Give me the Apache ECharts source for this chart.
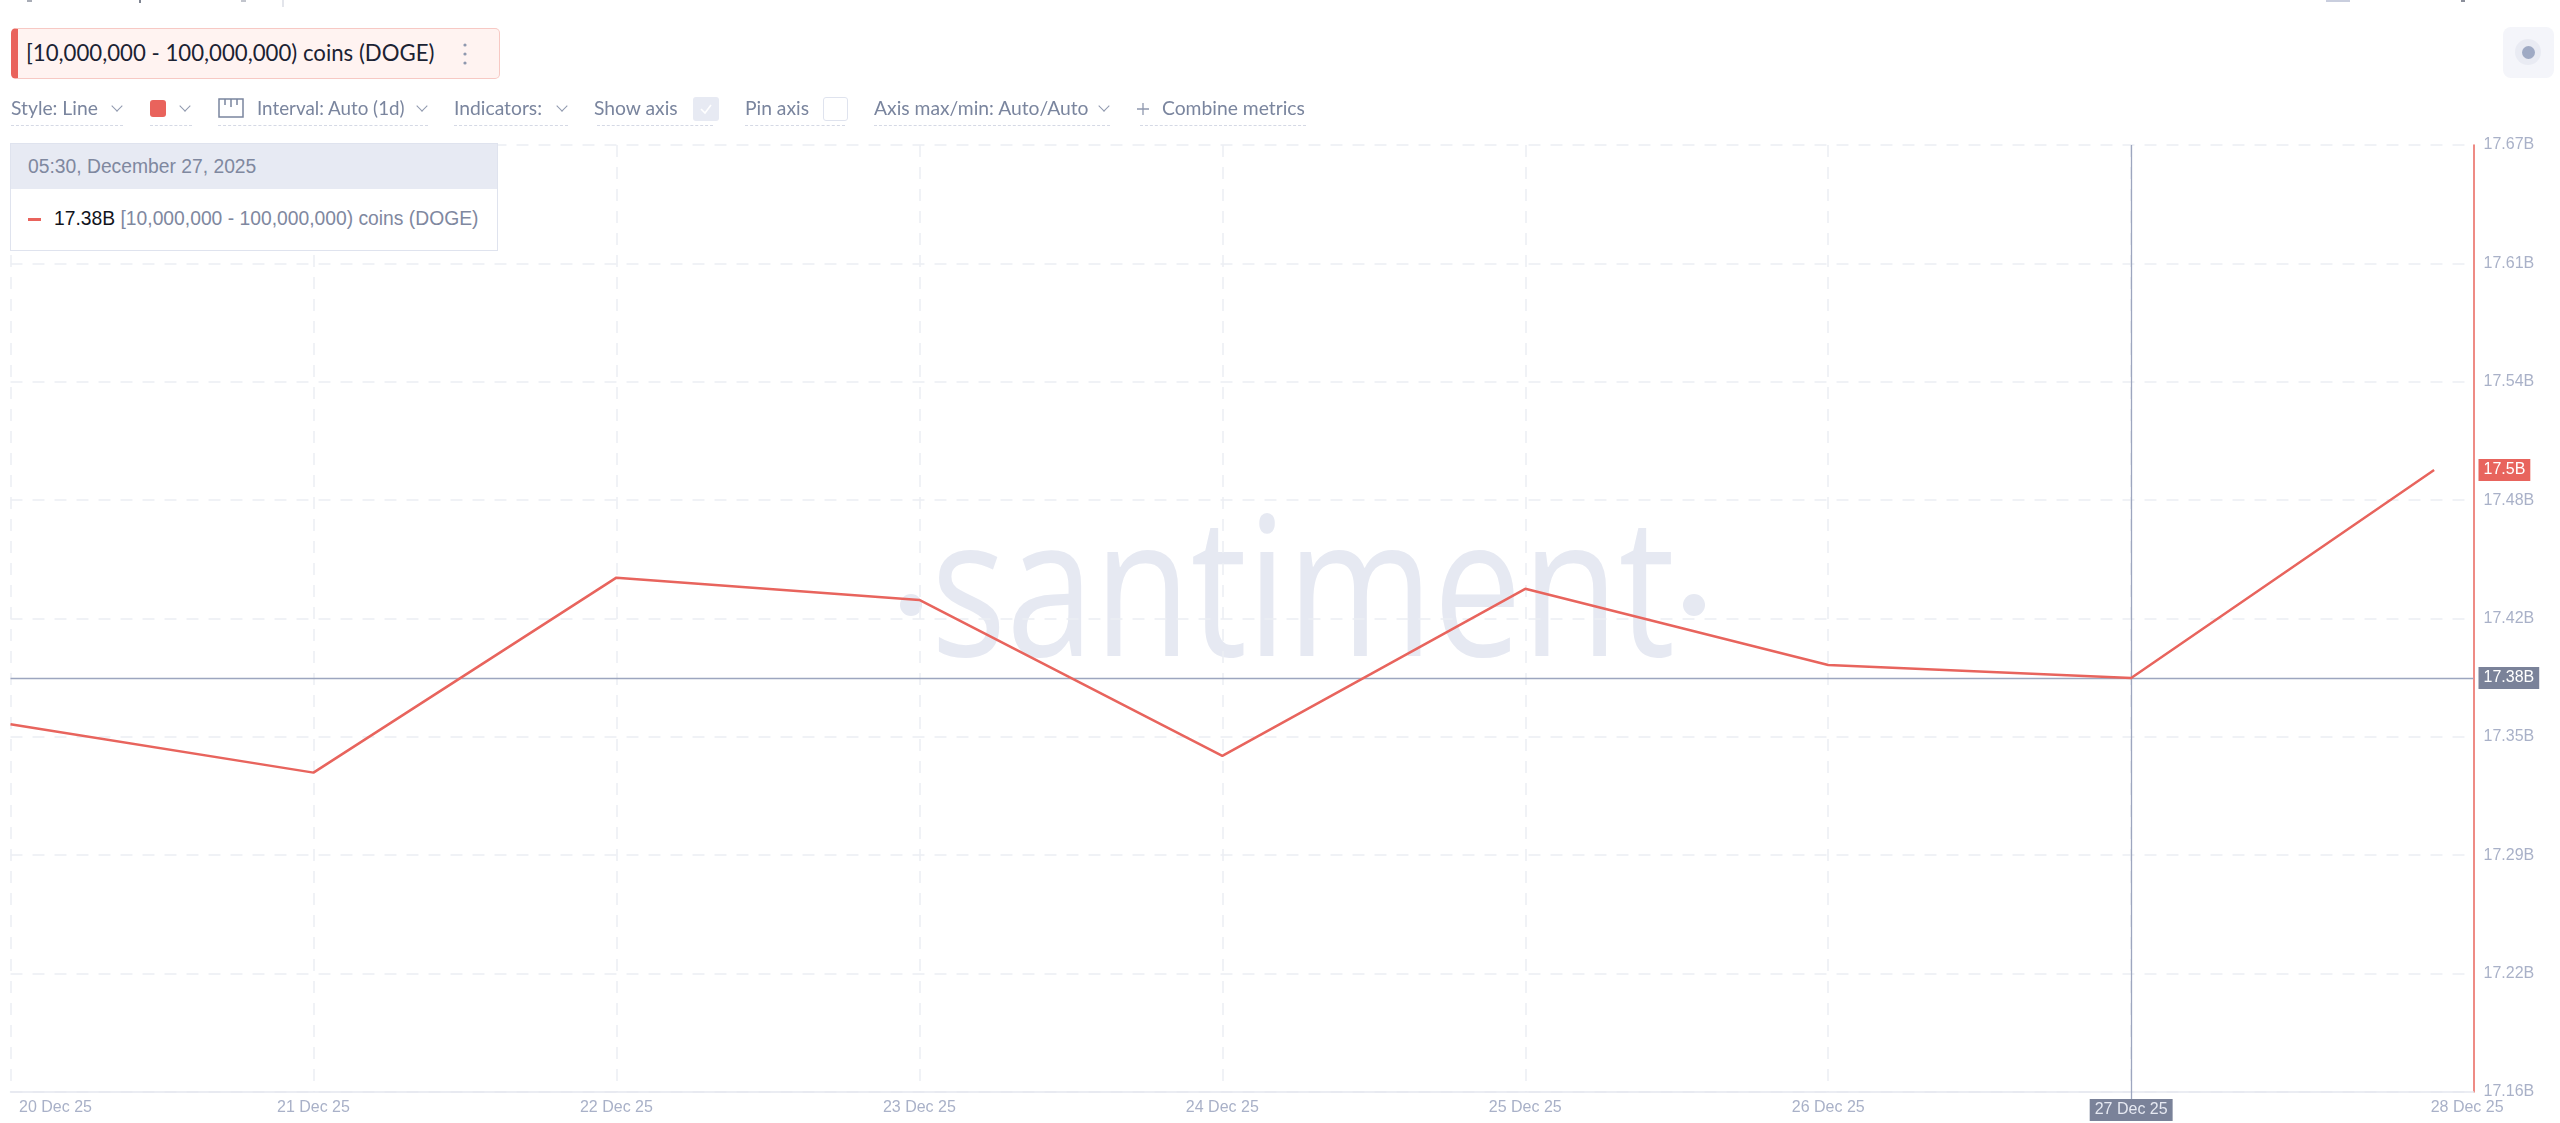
<!DOCTYPE html>
<html>
<head>
<meta charset="utf-8">
<title>[10,000,000 - 100,000,000) coins (DOGE)</title>
<script src="https://cdn.jsdelivr.net/npm/echarts@6/dist/echarts.min.js"></script>
<style>
html, body { margin: 0; padding: 0; background: #fff; width: 2560px; height: 1123px; overflow: hidden; }
#main { position: absolute; left: 0; top: 0; width: 2560px; height: 1123px; }
.abs { position: absolute; white-space: nowrap; }
.tool { font: 19.3px Lato, sans-serif; color: #7a859e; top: 97px; line-height: 22px; }
.under { height: 0; top: 125px; border-bottom: 1.5px dashed #d5d9e5; }
.chev { width: 7px; height: 7px; top: 102px; border-right: 1.4px solid #8f98ae; border-bottom: 1.4px solid #8f98ae; transform: rotate(45deg); }
#tag { left: 11px; top: 28px; width: 489px; height: 51px; background: #fff3f1; border: 1px solid #f7c9c4; border-left: 7px solid #e9635c; border-radius: 5px; box-sizing: border-box; }
#tagText { left: 26px; top: 39px; font: 22.2px Lato, sans-serif; line-height: 28px; color: #1b2233; }
#tip { left: 10px; top: 143px; width: 488px; height: 108px; box-sizing: border-box; border: 1.5px solid #dfe3ee; background: #fff; }
#tipHead { left: 0; top: 0; width: 100%; height: 45px; background: #e7eaf3; }
.tipText { font: 19.3px "Liberation Sans", sans-serif; line-height: 22px; color: #7f889f; }
</style>
</head>
<body>
<div id="main"></div>

<div class="abs" style="left:282px;top:0;width:1.5px;height:7px;background:#e3e5eb"></div>
<div class="abs" style="left:27px;top:0;width:5px;height:2px;background:#a8acb6"></div>
<div class="abs" style="left:139px;top:0;width:2px;height:3px;background:#7f8491"></div>
<div class="abs" style="left:241px;top:0;width:5px;height:2px;background:#c2c5cd"></div>
<div class="abs" style="left:2326px;top:0;width:24px;height:2px;background:#c9cede"></div>
<div class="abs" style="left:2461px;top:0;width:4px;height:2px;background:#8b8f9b"></div>

<div id="tag" class="abs"></div>
<div id="tagText" class="abs">[10,000,000 - 100,000,000) coins (DOGE)</div>
<svg class="abs" style="left:462px;top:42px" width="6" height="24"><circle cx="3" cy="3" r="1.6" fill="#8f98ae"/><circle cx="3" cy="12" r="1.6" fill="#8f98ae"/><circle cx="3" cy="21" r="1.6" fill="#8f98ae"/></svg>

<div class="abs tool" style="left:11px">Style: Line</div>
<div class="abs chev" style="left:113px"></div>
<div class="abs under" style="left:11px;width:112px"></div>
<div class="abs" style="left:150px;top:100px;width:16px;height:17px;background:#e9635c;border-radius:3px"></div>
<div class="abs chev" style="left:181px"></div>
<div class="abs under" style="left:150px;width:42px"></div>
<svg class="abs" style="left:218px;top:98px" width="26" height="20" fill="none" stroke="#7a859e" stroke-width="1.5"><rect x="1" y="1" width="24" height="18"/><path d="M7 1v6M13 1v8M19 1v6"/></svg>
<div class="abs tool" style="left:257px;font-size:18.8px">Interval: Auto (1d)</div>
<div class="abs chev" style="left:418px"></div>
<div class="abs under" style="left:218px;width:210px"></div>
<div class="abs tool" style="left:454px">Indicators:</div>
<div class="abs chev" style="left:558px"></div>
<div class="abs under" style="left:454px;width:114px"></div>
<div class="abs tool" style="left:594px">Show axis</div>
<div class="abs" style="left:693px;top:97px;width:26px;height:24px;background:#e7eaf3;border-radius:3px"></div>
<svg class="abs" style="left:699px;top:102px" width="14" height="14" fill="none" stroke="#fff" stroke-width="1.6"><path d="M2 7l4 4 6-8"/></svg>
<div class="abs under" style="left:597px;width:116px"></div>
<div class="abs tool" style="left:745px">Pin axis</div>
<div class="abs" style="left:823px;top:97px;width:25px;height:24px;box-sizing:border-box;border:1px solid #dfe3ee;border-radius:3px"></div>
<div class="abs under" style="left:745px;width:100px"></div>
<div class="abs tool" style="left:874px">Axis max/min: Auto/Auto</div>
<div class="abs chev" style="left:1100px"></div>
<div class="abs under" style="left:874px;width:236px"></div>
<svg class="abs" style="left:1137px;top:103px" width="12" height="12" stroke="#8f98ae" stroke-width="1.3"><path d="M6 0v12M0 6h12"/></svg>
<div class="abs tool" style="left:1162px">Combine metrics</div>
<div class="abs under" style="left:1140px;width:166px"></div>

<div id="tip" class="abs">
  <div id="tipHead" class="abs"></div>
  <div class="abs tipText" style="left:17px;top:12px">05:30, December 27, 2025</div>
  <div class="abs" style="left:17px;top:74px;width:13px;height:2.5px;background:#e9635c"></div>
  <div class="abs tipText" style="left:43px;top:64px"><span style="color:#11141c">17.38B</span> [10,000,000 - 100,000,000) coins (DOGE)</div>
</div>

<div class="abs" style="left:2503px;top:27px;width:51px;height:51px;background:#f4f5fa;border-radius:8px"></div>
<div class="abs" style="left:2515px;top:39px;width:26px;height:26px;background:#e9ebf3;border-radius:50%"></div>
<div class="abs" style="left:2522px;top:46px;width:13px;height:13px;background:#9faac4;border-radius:50%"></div>

<script>
// [10,000,000 - 100,000,000) coins (DOGE), one value per day
var dayLabels = ['20 Dec 25', '21 Dec 25', '22 Dec 25', '23 Dec 25', '24 Dec 25', '25 Dec 25', '26 Dec 25', '27 Dec 25', '28 Dec 25'];
var holderValues = [17.358, 17.332, 17.437, 17.425, 17.341, 17.431, 17.39, 17.383, 17.495];
var dayLabelTicks = [0, 1, 2, 3, 4, 5, 6, 7, 8];
var dayGridTicks = [0, 1, 2, 3, 4, 5, 6, 7]; // no grid line on 28 Dec
var yTicks = [17.16, 17.22375, 17.2875, 17.35125, 17.415, 17.47875, 17.5425, 17.60625, 17.67];
var yTickLabels = ['17.16B', '17.22B', '17.29B', '17.35B', '17.42B', '17.48B', '17.54B', '17.61B', '17.67B'];
var crosshairDay = 7;
var crosshairValue = 17.383;
var crosshairValueLabel = '17.38B';
var lastValueLabel = '17.5B';

var red = '#e8645d';
var slate = '#7a8299';
var crossColor = '#9da6bf';
var labelFont = '"Liberation Sans", Arial, sans-serif';
var gridDash = { color: '#eceef3', width: 1.5, type: [12, 10] };

var myChart = echarts.init(document.getElementById('main'), null, { renderer: 'canvas' });

var option = {
    animation: false,
    backgroundColor: '#fff',
    grid: { left: 10.5, right: 86.5, top: 145, bottom: 31 },
    // santiment watermark
    graphic: [
        {
            type: 'text',
            z: -10,
            silent: true,
            x: 1303,
            y: 698,
            scaleX: 0.81,
            style: {
                text: 'santiment',
                font: '500 195px "Open Sans", sans-serif',
                fill: '#e6e9f2',
                align: 'center',
                verticalAlign: 'bottom'
            }
        },
        { type: 'circle', z: -10, silent: true, shape: { cx: 911, cy: 605, r: 11 }, style: { fill: '#e6e9f2' } },
        { type: 'circle', z: -10, silent: true, shape: { cx: 1694, cy: 605, r: 11 }, style: { fill: '#e6e9f2' } }
    ],
    xAxis: [{
        type: 'value',
        position: 'bottom',
        min: 0,
        max: 8.13,
        axisLine: { show: true, onZero: false, lineStyle: { color: '#e5e8f0', width: 1.5 } },
        axisTick: { show: false, customValues: dayGridTicks },
        splitLine: { show: true, lineStyle: gridDash },
        axisLabel: {
            customValues: dayLabelTicks,
            margin: 8,
            color: '#a9b1c8',
            fontSize: 16,
            fontFamily: labelFont,
            formatter: function(value) {
                var text = dayLabels[value];
                if (value === 0) return '{first|' + text + '}';
                if (value === 8) return '{last|' + text + '}';
                return text;
            },
            rich: {
                first: { padding: [0, 0, 0, 90], color: '#a9b1c8', fontSize: 16, fontFamily: labelFont },
                last: { padding: [0, 0, 0, 66], color: '#a9b1c8', fontSize: 16, fontFamily: labelFont }
            }
        }
    }, {
        // only carries the crosshair down to its date label
        type: 'value',
        position: 'bottom',
        min: 0,
        max: 8.13,
        axisLine: { show: false, onZero: false },
        axisLabel: { show: false },
        splitLine: { show: false },
        axisTick: { show: true, customValues: [crosshairDay], length: 7, lineStyle: { color: crossColor, width: 1.3 } }
    }],
    yAxis: {
        type: 'value',
        position: 'right',
        min: 17.16,
        max: 17.67,
        axisLine: { show: true, onZero: false, lineStyle: { color: red, width: 1.5 } },
        axisTick: { show: false, customValues: yTicks },
        splitLine: { show: true, lineStyle: gridDash },
        axisLabel: {
            customValues: yTicks,
            margin: 10,
            color: '#a9b1c8',
            fontSize: 16,
            fontFamily: labelFont,
            formatter: function(value) {
                return yTickLabels[yTicks.indexOf(value)];
            }
        }
    },
    series: [{
        name: '[10,000,000 - 100,000,000) coins (DOGE)',
        type: 'line',
        data: holderValues.map(function(v, i) { return [i, v]; }),
        showSymbol: false,
        lineStyle: { color: red, width: 2.5 },
        z: 5,
        markLine: {
            silent: true,
            symbol: 'none',
            animation: false,
            precision: 5,
            z: 3,
            lineStyle: { color: crossColor, width: 1.3, type: 'solid' },
            data: [
                {
                    yAxis: crosshairValue,
                    label: {
                        show: true, position: 'end', distance: 5, formatter: crosshairValueLabel,
                        backgroundColor: slate, color: '#fff', fontSize: 16, fontFamily: labelFont, padding: [3, 5]
                    }
                },
                {
                    yAxis: holderValues[holderValues.length - 1],
                    lineStyle: { color: 'transparent' },
                    label: {
                        show: true, position: 'end', distance: 5, formatter: lastValueLabel,
                        backgroundColor: red, color: '#fff', fontSize: 16, fontFamily: labelFont, padding: [3, 5]
                    }
                },
                {
                    xAxis: crosshairDay,
                    label: {
                        show: true, position: 'start', distance: 7, formatter: dayLabels[crosshairDay],
                        backgroundColor: slate, color: '#e6e9f2', fontSize: 16, fontFamily: labelFont, padding: [3, 5]
                    }
                }
            ]
        }
    }]
};

myChart.setOption(option);
</script>
</body>
</html>
